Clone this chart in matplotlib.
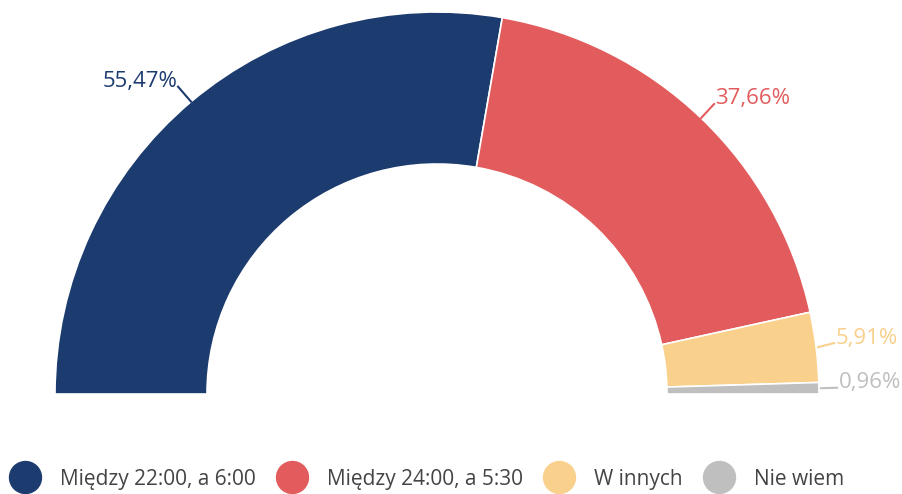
import matplotlib
matplotlib.use("Agg")
import matplotlib.pyplot as plt
from matplotlib.patches import Wedge
from matplotlib.lines import Line2D
import numpy as np

plt.rcParams["font.family"] = ["Open Sans", "DejaVu Sans"]

labels = ["Między 22:00, a 6:00", "Między 24:00, a 5:30", "W innych", "Nie wiem"]
values = [55.47, 37.66, 5.91, 0.96]
value_labels = ["55,47%", "37,66%", "5,91%", "0,96%"]
colors = ["#1c3b6f", "#e35c5d", "#f9d08c", "#bfbfbf"]

W, H = 902, 494
CX, CY = 437, H - 394
R_OUT, R_IN = 382, 230

fig = plt.figure(figsize=(W / 100, H / 100), dpi=100)
ax = fig.add_axes([0, 0, 1, 1])
ax.set_xlim(0, W)
ax.set_ylim(0, H)
ax.axis("off")

total = sum(values)
start = 180.0
for val, col, lab in zip(values, colors, value_labels):
    span = 180.0 * val / total
    end = start - span
    ax.add_patch(Wedge((CX, CY), R_OUT, end, start, width=R_OUT - R_IN,
                       facecolor=col, edgecolor="white", linewidth=1.2))
    mid = np.radians((start + end) / 2)
    x0 = CX + R_OUT * np.cos(mid)
    y0 = CY + R_OUT * np.sin(mid)
    if np.cos(mid) < 0:
        x1, y1 = x0 - 13, y0 + 15
        ax.plot([x0, x1], [y0, y1], color=col, lw=1.5)
        ax.text(x1 - 1, y1 + 5, lab, color=col, fontsize=16, ha="right", va="center")
    elif np.sin(mid) > 0.3:
        x1, y1 = x0 + 13, y0 + 14
        ax.plot([x0, x1], [y0, y1], color=col, lw=1.5)
        ax.text(x1 + 1, y1 + 6, lab, color=col, fontsize=16, ha="left", va="center")
    else:
        x1, y1 = x0 + 18, y0 + 4 * np.sin(mid) / 0.12
        ax.plot([x0 + 2, x1], [y0, y1], color=col, lw=1.5)
        ax.text(x1 + 2, y1 + 5, lab, color=col, fontsize=16, ha="left", va="center")
    start = end

handles = [Line2D([], [], marker="o", linestyle="none", markersize=23,
                  markerfacecolor=c, markeredgecolor=c) for c in colors]
fig.legend(handles, labels, loc="center left", bbox_to_anchor=(9 / W, 15 / H),
           ncol=4, frameon=False, fontsize=15, labelcolor="#444444",
           borderpad=0, borderaxespad=0, handletextpad=0.93, columnspacing=1.0,
           handlelength=1.5)

fig.savefig("out.png", dpi=100)
